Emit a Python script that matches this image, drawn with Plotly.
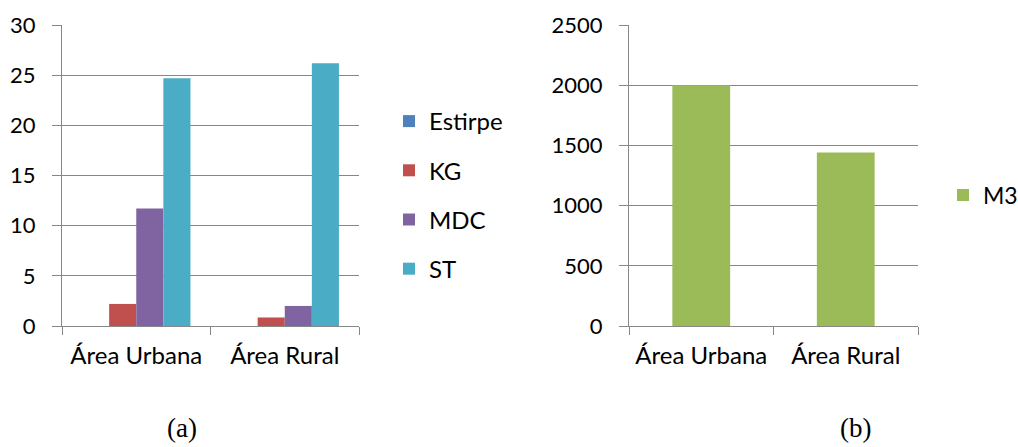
import plotly.graph_objects as go

W, H = 1018, 447

categories = ["Área Urbana", "Área Rural"]
series_left = ["Estirpe", "KG", "MDC", "ST"]
values_left = {
    "Estirpe": [0, 0],
    "KG": [2.2, 0.85],
    "MDC": [11.7, 2.0],
    "ST": [24.7, 26.2],
}
colors_left = {"Estirpe": "#4F81BD", "KG": "#C0504D", "MDC": "#8064A2", "ST": "#4BACC6"}
values_right = [2000, 1440]
series_right = "M3"
color_right = "#9BBB59"
ticks_left = [0, 5, 10, 15, 20, 25, 30]
ticks_right = [0, 500, 1000, 1500, 2000, 2500]
captions = ["(a)", "(b)"]

FONT = "Lato"
FS_Y = 22
FS_X = 24
GRID = "#878787"

def px(x):
    return x / W

def py(y):
    return 1 - y / H

fig = go.Figure()
for s in series_left:
    fig.add_trace(go.Bar(x=categories, y=values_left[s], name=s, marker_color=colors_left[s],
                         marker_line_width=0, xaxis="x", yaxis="y", legend="legend",
                         legendgroup=s))
fig.add_trace(go.Bar(x=categories, y=values_right, name=series_right, marker_color=color_right,
                     marker_line_width=0, xaxis="x2", yaxis="y2", legend="legend2",
                     width=0.4, offset=-0.2))

axis_common = dict(showline=True, linecolor=GRID, linewidth=1, ticks="outside", tickcolor=GRID,
                   tickwidth=1, automargin=False)
xfont = dict(family=FONT, size=FS_X, color="black")
yfont = dict(family=FONT, size=FS_Y, color="black")
capfont = dict(family="Liberation Serif", size=27, color="black")

fig.update_layout(
    width=W, height=H, margin=dict(l=0, r=0, t=0, b=0, pad=0, autoexpand=False),
    paper_bgcolor="white", plot_bgcolor="white",
    barmode="group", bargap=0.27, bargroupgap=0,
    showlegend=True,
    xaxis=dict(domain=[px(62), px(359)], anchor="y", tickson="boundaries", ticklen=8,
               showgrid=False, tickfont=xfont, ticklabelstandoff=8, **axis_common),
    yaxis=dict(domain=[py(326), py(25)], anchor="x", range=[0, 30], tickvals=ticks_left,
               showgrid=True, gridcolor=GRID, gridwidth=1, ticklen=9, zeroline=False,
               tickfont=yfont, ticklabelstandoff=12, **axis_common),
    xaxis2=dict(domain=[px(629), px(918)], anchor="y2", tickson="boundaries", ticklen=8,
                showgrid=False, tickfont=xfont, ticklabelstandoff=8, **axis_common),
    yaxis2=dict(domain=[py(326), py(25)], anchor="x2", range=[0, 2500], tickvals=ticks_right,
                showgrid=True, gridcolor=GRID, gridwidth=1, ticklen=9, zeroline=False,
                tickfont=yfont, ticklabelstandoff=12, **axis_common),
    legend=dict(xref="container", yref="container", x=px(389), y=py(99),
                xanchor="left", yanchor="top",
                font=dict(family=FONT, size=FS_X, color="black"), tracegroupgap=15,
                bgcolor="rgba(0,0,0,0)"),
    legend2=dict(xref="container", yref="container", x=px(943), y=py(195),
                 xanchor="left", yanchor="middle",
                 font=dict(family=FONT, size=23, color="black"),
                 bgcolor="rgba(0,0,0,0)"),
    annotations=[
        dict(text=captions[0], x=px(182), y=py(428), xref="paper", yref="paper",
             xanchor="center", yanchor="middle", showarrow=False, font=capfont),
        dict(text=captions[1], x=px(855), y=py(428), xref="paper", yref="paper",
             xanchor="center", yanchor="middle", showarrow=False, font=capfont),
    ],
)

fig.write_html("out.html", config={"displayModeBar": False},
               post_script="document.body.style.margin='0';")
